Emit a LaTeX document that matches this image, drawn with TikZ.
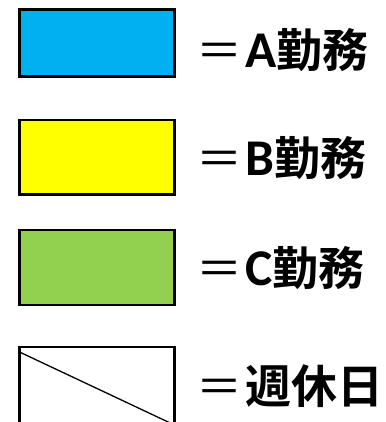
\documentclass[tikz,border=0pt]{standalone}
\usepackage{fontspec}
\setmainfont{Noto Sans CJK JP}[BoldFont={* Bold}]
\newfontfamily\latinb{Carlito}[BoldFont={* Bold},Scale=1.12]
\definecolor{cblue}{HTML}{00B0F0}
\definecolor{cyellow}{HTML}{FFFF00}
\definecolor{cgreen}{HTML}{92D050}
\newcommand{\eqsign}{{\mdseries ＝}\hspace{3pt}}
\begin{document}
\begin{tikzpicture}[x=1pt,y=1pt,
  legbox/.style={draw=black,line width=2.6pt},
  legtext/.style={anchor=west,inner sep=0pt,font=\fontsize{46}{50}\selectfont\bfseries}]
\useasboundingbox (0,0) rectangle (385,-422);
\fill[white] (0,0) rectangle (385,-422);
% boxes
\path[legbox,fill=cblue] (19.5,-9.5) rectangle (174.5,-76.5);
\path[legbox,fill=cyellow] (19.5,-120) rectangle (174.5,-194.5);
\path[legbox,fill=cgreen] (19.5,-230) rectangle (174.5,-305);
\path[legbox,fill=white] (19.5,-347) rectangle (174.5,-425);
\coordinate (d1) at (19.5,-352);
\coordinate (d2) at (174.5,-425);
\draw[line width=1.3pt] (d1) -- (d2);
% labels
\node[legtext] (ta) at (196,-50) {\eqsign{\latinb A}勤務};
\node[legtext] (tb) at (196,-158) {\eqsign{\latinb B}勤務};
\node[legtext] (tc) at (196,-268) {\eqsign{\latinb C}勤務};
\node[legtext] (td) at (196,-386) {\eqsign 週休日};
\end{tikzpicture}
\end{document}
